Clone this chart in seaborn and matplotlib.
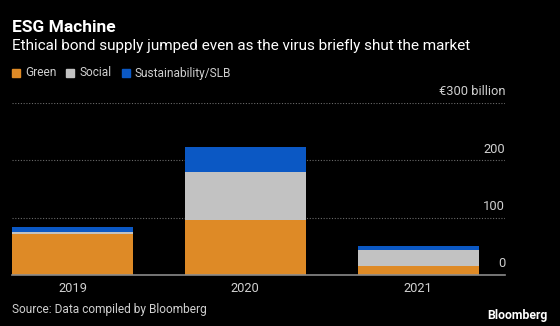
import matplotlib
matplotlib.use("Agg")
import matplotlib.pyplot as plt
import matplotlib.transforms as mtransforms
from matplotlib.patches import Rectangle
import pandas as pd
import seaborn as sns

# Ethical bond supply, EUR billions
years = ["2019", "2020", "2021"]
green = [71, 96, 16]
social = [4, 84, 27]
sustainability = [9, 43, 7]
series_names = ["Green", "Social", "Sustainability/SLB"]
y_ticks = [0, 100, 200, 300]
y_tick_labels = ["0", "100", "200", "€300 billion"]

colors = {"Green": "#DE8A26", "Social": "#C2C2C2", "Sustainability/SLB": "#0B58C4"}
bg = "#000000"
text_col = "#D0D0D0"
grid_col = "#6A6A6A"

sns.set_theme(style="dark")
plt.rcParams["font.family"] = ["Roboto", "DejaVu Sans"]

df = pd.DataFrame({"year": years, "Green": green, "Social": social,
                   "Sustainability/SLB": sustainability})
df["b_social"] = df["Green"]
df["b_sust"] = df["Green"] + df["Social"]

fig = plt.figure(figsize=(5.6, 3.26), dpi=100, facecolor=bg)
ax = fig.add_axes([0.0214, 0.1564, 0.8804, 0.5286])
ax.set_facecolor(bg)

# dotted gridlines behind the bars
for t in y_ticks[1:]:
    ax.axhline(t, color=grid_col, lw=0.8, ls=(0, (1, 1.5)), zorder=0)

sns.barplot(data=df, x="year", y="Green", color=colors["Green"], width=0.7,
            saturation=1, ax=ax, zorder=2, linewidth=0)
sns.barplot(data=df, x="year", y="Social", bottom=df["b_social"],
            color=colors["Social"], width=0.7, saturation=1, ax=ax, zorder=2,
            linewidth=0)
sns.barplot(data=df, x="year", y="Sustainability/SLB", bottom=df["b_sust"],
            color=colors["Sustainability/SLB"], width=0.7, saturation=1,
            ax=ax, zorder=2, linewidth=0)

ax.set_xlim(-0.35, 2.503)
ax.set_ylim(0, 300)
ax.set_xlabel("")
ax.set_ylabel("")
ax.set_yticks([])
for s in ["top", "right", "left"]:
    ax.spines[s].set_visible(False)
ax.spines["bottom"].set_color("#8A8A8A")
ax.spines["bottom"].set_linewidth(1.2)
ax.spines["bottom"].set_zorder(3)
ax.tick_params(axis="x", colors=text_col, labelsize=9.3, length=0, pad=5)
ax.grid(False)

# value labels sit above their gridline at the right edge
trans = mtransforms.blended_transform_factory(ax.transAxes, ax.transData)
for t, lab in zip(y_ticks, y_tick_labels):
    ax.text(1.0, t + 8, lab, transform=trans, ha="right", va="bottom",
            color=text_col, fontsize=9.3)

# titles
fig.text(0.0214, 1 - 27 / 326, "ESG Machine", color="white", fontsize=12.5,
         fontweight="bold", va="center", ha="left")
fig.text(0.0214, 1 - 46 / 326,
         "Ethical bond supply jumped even as the virus briefly shut the market",
         color="white", fontsize=11, va="center", ha="left")

# legend row
x = 12
for name in series_names:
    fig.patches.append(Rectangle((x / 560, 1 - 77 / 326), 8 / 560, 8 / 326,
                                 transform=fig.transFigure,
                                 color=colors[name], figure=fig))
    t = fig.text((x + 13) / 560, 1 - 73 / 326, name, color=text_col,
                 fontsize=8.6, va="center", ha="left")
    fig.canvas.draw()
    bb = t.get_window_extent()
    x = bb.x1 + 10

fig.text(0.0214, 1 - 310 / 326, "Source: Data compiled by Bloomberg",
         color=text_col, fontsize=8.6, va="center", ha="left")
fig.text(548 / 560, 1 - 316 / 326, "Bloomberg", color="white", fontsize=8.8,
         fontweight="bold", va="center", ha="right")

fig.savefig("out.png", dpi=100, facecolor=bg)
